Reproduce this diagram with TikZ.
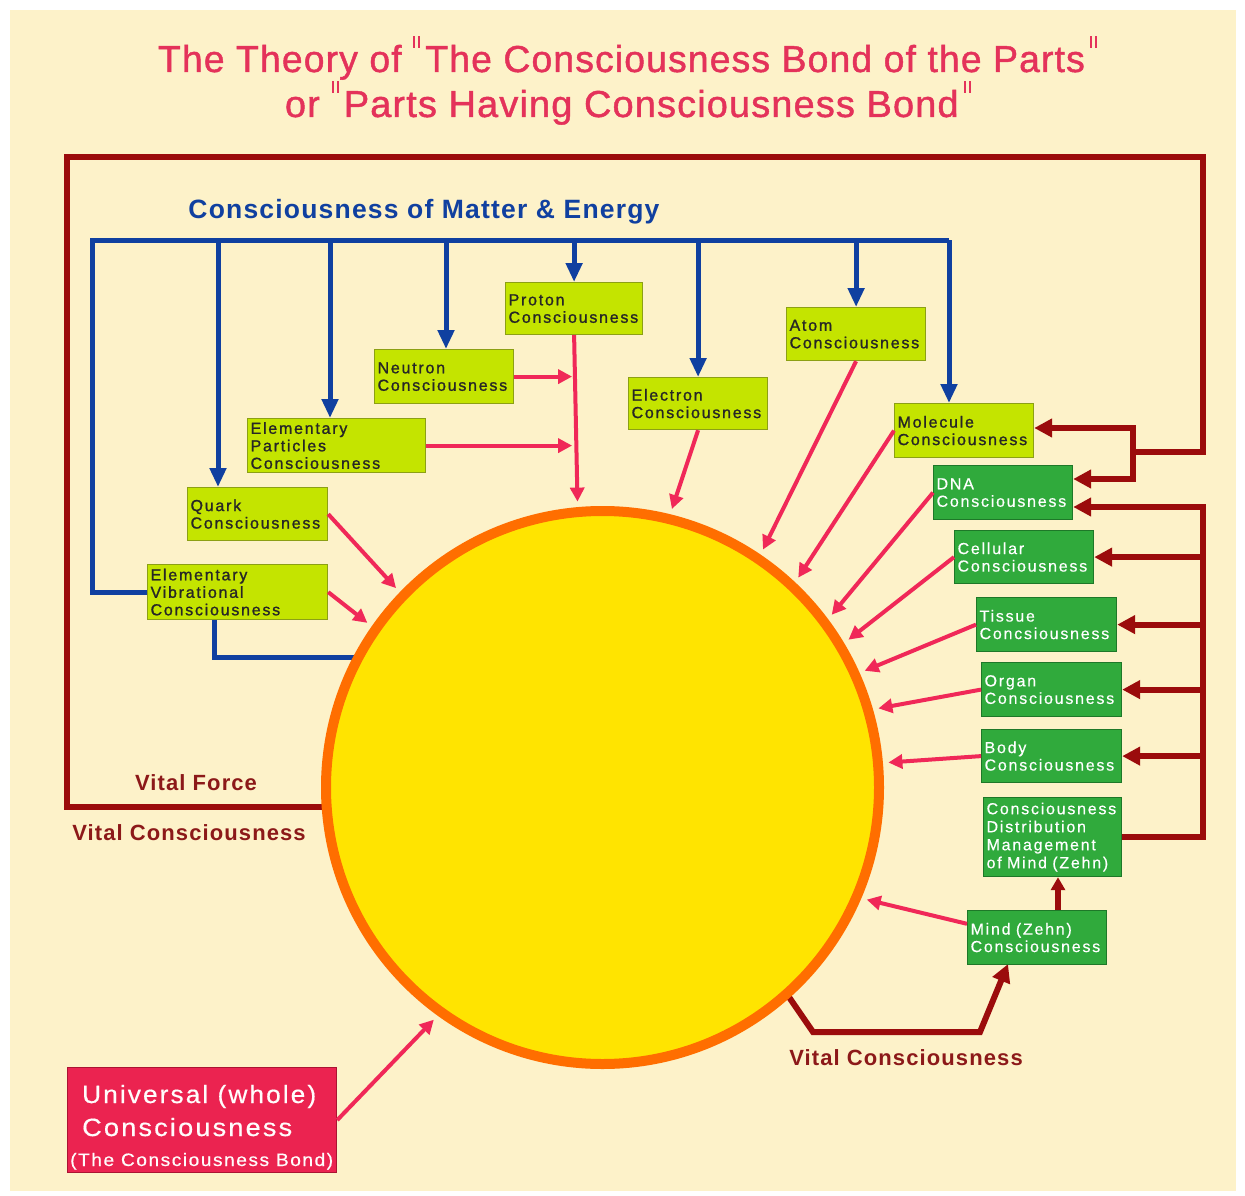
\documentclass[tikz,border=0pt]{standalone}
\usepackage{fontspec}
\usepackage{graphicx}
\setmainfont{Liberation Sans}
\newfontfamily\boxfont[LetterSpace=11,FakeBold=1.2]{Liberation Sans}
\newfontfamily\gboxfont[LetterSpace=11,FakeBold=0.4]{Liberation Sans}
\newfontfamily\labfont[LetterSpace=5]{Liberation Sans}
\newfontfamily\univfont[LetterSpace=8,FakeBold=0.5]{Liberation Sans}
\newfontfamily\blufont[LetterSpace=4.5]{Liberation Sans}
\newfontfamily\titlefont[LetterSpace=3,FakeBold=1.2]{Liberation Sans}
\newcommand{\tqo}{\raisebox{24pt}{\rule{2.2pt}{12pt}\hspace{2.8pt}\rule{2.2pt}{12pt}}\hspace{5pt}}
\newcommand{\tqc}{\hspace{5pt}\raisebox{24pt}{\rule{2.2pt}{12pt}\hspace{2.8pt}\rule{2.2pt}{12pt}}}
\usetikzlibrary{arrows.meta,calc}
\pgfdeclarelayer{back}
\pgfdeclarelayer{under}
\pgfsetlayers{back,under,main}
\definecolor{cream}{RGB}{253,242,201}
\definecolor{dred}{RGB}{155,12,12}
\definecolor{mblue}{RGB}{16,64,160}
\definecolor{pinkr}{RGB}{240,40,88}
\definecolor{lime}{RGB}{196,228,0}
\definecolor{limeb}{RGB}{140,160,20}
\definecolor{gbox}{RGB}{48,170,60}
\definecolor{gboxb}{RGB}{30,120,40}
\definecolor{sunf}{RGB}{255,228,0}
\definecolor{suno}{RGB}{255,110,0}
\definecolor{univc}{RGB}{235,35,80}
\definecolor{univb}{RGB}{170,20,50}
\definecolor{titlec}{RGB}{228,50,90}
\definecolor{vitalc}{RGB}{140,25,25}
\begin{document}
\begin{tikzpicture}[x=1pt,y=-1pt,
  lbox/.style={draw=limeb, fill=lime, line width=1.2pt, text=black!85,
    font=\boxfont\fontsize{16}{17.5}\selectfont, anchor=north west,
    inner xsep=3pt, inner ysep=0pt, align=left},
  gbx/.style={lbox, draw=gboxb, fill=gbox, text=white, font=\gboxfont\fontsize{16}{17.5}\selectfont},
  bl/.style={draw=mblue, line width=5pt},
  bla/.style={bl, -{Triangle[length=19pt,width=16pt]}},
  dr/.style={draw=dred, line width=6pt},
  dra/.style={dr, -{Triangle[length=18pt,width=18pt]}},
  drs/.style={dr, -{Triangle[length=13pt,width=14pt]}},
  pk/.style={draw=pinkr, line width=4pt, -{Triangle[length=14pt,width=14pt]}},
  lab/.style={anchor=base, inner sep=0pt, text=vitalc, font=\labfont\bfseries\fontsize{22}{24}\selectfont},
  utext/.style={anchor=base west, inner sep=0pt, text=white!95!pink}
]
\useasboundingbox (0,0) rectangle (1245,1196);
\begin{pgfonlayer}{back}
\fill[white] (0,0) rectangle (1245,1196);
\fill[cream] (10,10) rectangle (1236,1191);
\end{pgfonlayer}

% titles
\node[anchor=base, text=titlec, inner sep=0pt] (title1) at (627.5,72)
  {\resizebox{939pt}{\height}{\titlefont\fontsize{37.5}{40}\selectfont The Theory of \tqo The Consciousness Bond of the Parts\tqc}};
\node[anchor=base, text=titlec, inner sep=0pt] (title2) at (628,117)
  {\resizebox{686pt}{\height}{\titlefont\fontsize{37.5}{40}\selectfont or \tqo Parts Having Consciousness Bond\tqc}};
\node[anchor=base, inner sep=0pt, text=mblue, font=\blufont\bfseries\fontsize{26.5}{30}\selectfont] (cme) at (424,218) {Consciousness of Matter \& Energy};
\node[lab] (vf) at (196,790) {Vital Force};
\node[lab] (vc1) at (189,840) {Vital Consciousness};
\node[lab] (vc2) at (906,1065) {Vital Consciousness};

% lime boxes
\node[lbox, minimum width=137pt, minimum height=52pt, text width=131pt] (proton) at (505,282) {Proton\\Consciousness};
\node[lbox, minimum width=139pt, minimum height=54pt, text width=133pt] (neutron) at (374,349) {Neutron\\Consciousness};
\node[lbox, minimum width=178pt, minimum height=54pt, text width=172pt] (ep) at (247,418) {Elementary\\Particles\\Consciousness};
\node[lbox, minimum width=140pt, minimum height=53pt, text width=134pt] (quark) at (187,487) {Quark\\Consciousness};
\node[lbox, minimum width=180pt, minimum height=55pt, text width=174pt] (ev) at (147,564) {Elementary\\Vibrational\\Consciousness};
\node[lbox, minimum width=139pt, minimum height=52pt, text width=133pt] (electron) at (628,377) {Electron\\Consciousness};
\node[lbox, minimum width=139pt, minimum height=53pt, text width=133pt] (atom) at (786,307) {Atom\\Consciousness};
\node[lbox, minimum width=139pt, minimum height=54pt, text width=133pt] (molecule) at (894,403) {Molecule\\Consciousness};

% green boxes
\node[gbx, minimum width=139pt, minimum height=54pt, text width=133pt] (dna) at (933,465) {DNA\\Consciousness};
\node[gbx, minimum width=139pt, minimum height=53pt, text width=133pt] (cell) at (954,530) {Cellular\\Consciousness};
\node[gbx, minimum width=140pt, minimum height=54pt, text width=134pt] (tissue) at (976,597) {Tissue\\Concsiousness};
\node[gbx, minimum width=140pt, minimum height=54pt, text width=134pt] (organ) at (981,662) {Organ\\Consciousness};
\node[gbx, minimum width=140pt, minimum height=53pt, text width=134pt] (body) at (981,729) {Body\\Consciousness};
\node[gbx, minimum width=138pt, minimum height=79pt, text width=132pt, font=\gboxfont\fontsize{16}{18}\selectfont] (mgmt) at (983,797) {Consciousness\\Distribution\\Management\\of Mind (Zehn)};
\node[gbx, minimum width=139pt, minimum height=54pt, text width=133pt] (mind) at (967,910) {Mind (Zehn)\\Consciousness};

% universal box
\node[draw=univb, fill=univc, line width=1.2pt, anchor=north west, minimum width=269pt, minimum height=105pt, inner sep=0pt] (univ) at (67,1067) {};
\node[utext] (u1) at (82,1103) {\resizebox{234pt}{\height}{\univfont\fontsize{25}{28}\selectfont Universal (whole)}};
\node[utext] (u2) at (82,1136) {\resizebox{210pt}{\height}{\univfont\fontsize{25}{28}\selectfont Consciousness}};
\node[utext] (u3) at (70,1166) {\resizebox{263pt}{\height}{\univfont\fontsize{18}{20}\selectfont (The Consciousness Bond)}};

% sun
\node[circle, draw=suno, fill=sunf, line width=10pt, minimum size=553pt, inner sep=0pt, outer sep=10.5pt] (sun) at (602.5,787.5) {};

% coordinates
\coordinate (busL) at (92,240);
\coordinate (busR) at (949,240);
\coordinate (dq) at (218,240);
\coordinate (dep) at (330,240);
\coordinate (dn) at (446,240);
\coordinate (evb) at (214,657);
\coordinate (evbE) at (450,657);
\coordinate (vfE) at (420,807);
\coordinate (c1) at (67,807);
\coordinate (c2) at (67,157);
\coordinate (c3) at (1203,157);
\coordinate (c4) at (1203,452);
\coordinate (c5) at (1133,452);
\coordinate (c6) at (1133,428);
\coordinate (c7) at (1133,479);
\coordinate (r1) at (1203,507);
\coordinate (mm) at (1058,900);
\coordinate (bv0) at (780,984);
\coordinate (bv1) at (813,1032);
\coordinate (bv2) at (980,1032);
\coordinate (bv3) at (1008,964);

% lines passing under the sun
\begin{pgfonlayer}{under}
\draw[bl] (evb |- ev.south) -- (evb) -- (evbE);
\draw[dr] (vfE) -- (c1) -- (c2) -- (c3) -- (c4) -- (c5);
\draw[dra] (bv0) -- (bv1) -- (bv2) -- (bv3);
\end{pgfonlayer}

% blue network
\draw[bl] (ev.west) -| (busL) -- (busR);
\draw[bla] (busR) -- (busR |- molecule.north);
\draw[bla] (dq) -- (dq |- quark.north);
\draw[bla] (dep) -- (dep |- ep.north);
\draw[bla] (dn) -- (dn |- neutron.north);
\draw[bla] (proton.north |- busL) -- (proton.north);
\draw[bla] (electron.north |- busL) -- (electron.north);
\draw[bla] (atom.north |- busL) -- (atom.north);

% dark red network
\draw[dra] (c5) -- (c6) -- (c6 -| molecule.east);
\draw[dra] (c5) -- (c7) -- (c7 -| dna.east);
\draw[dra] (mgmt.east) -- (mgmt.east -| r1) -- (r1) -- (r1 -| dna.east);
\draw[dra] (r1 |- cell.east) -- (cell.east);
\draw[dra] (r1 |- tissue.east) -- (tissue.east);
\draw[dra] (r1 |- organ.east) -- (organ.east);
\draw[dra] (r1 |- body.east) -- (body.east);
\draw[drs] (mm |- mind.north) -- (mm |- mgmt.south);

% pink arrows
\draw[pk, shorten >=2pt] (neutron.east) -- (neutron.east -| proton.south);
\draw[pk, shorten >=2pt] (ep.east) -- (ep.east -| proton.south);
\draw[pk] (proton.south) -- (sun.95.9);
\draw[pk] (electron.south) -- (sun.76.8);
\draw[pk] (atom.south) -- (sun.56.3);
\draw[pk] (molecule.west) -- (sun.47);
\draw[pk] (dna.west) -- (sun.37.8);
\draw[pk] (cell.west) -- (sun.31);
\draw[pk] (tissue.west) -- (sun.24.8);
\draw[pk] (organ.west) -- (sun.16.7);
\draw[pk] (body.west) -- (sun.5.9);
\draw[pk] ($(mind.north west)!0.25!(mind.south west)$) -- (sun.-23.9);
\draw[pk] (quark.east) -- (sun.136.3);
\draw[pk] (ev.east) -- (sun.145);
\draw[pk] (univ.east) -- (sun.234.3);
\end{tikzpicture}
\end{document}
